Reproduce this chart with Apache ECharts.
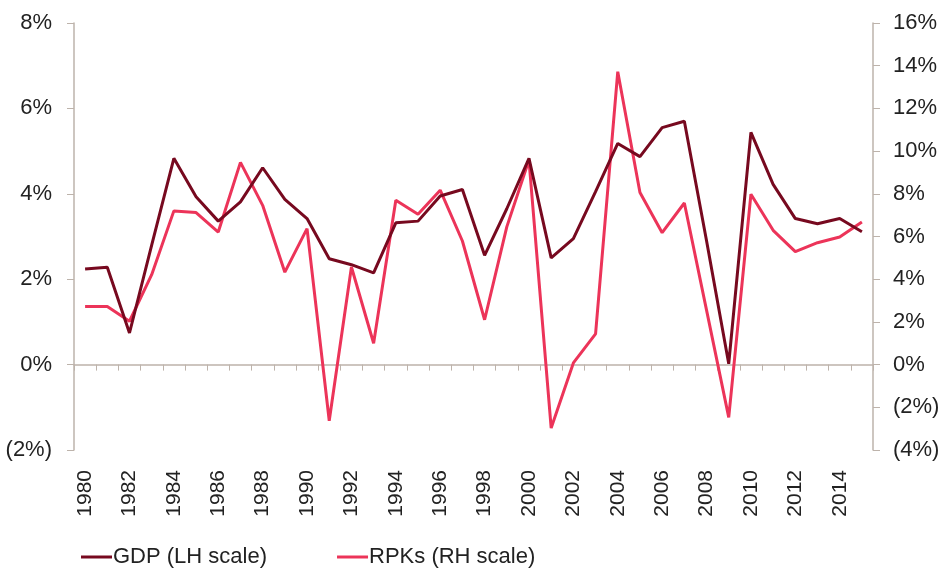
<!DOCTYPE html>
<html>
<head>
<meta charset="utf-8">
<script src="https://cdn.jsdelivr.net/npm/echarts@6/dist/echarts.min.js"></script>
<style>
  html, body { margin: 0; padding: 0; background: #fff; }
  #chart { width: 939px; height: 569px; }
</style>
</head>
<body>
<div id="chart"></div>
<script>
// years 1980-2015
var years = [];
for (var y = 1980; y <= 2015; y++) years.push(String(y));

// GDP growth, % (left axis)
var gdp = [2.24, 2.28, 0.74, 2.8, 4.83, 3.93, 3.36, 3.81, 4.61, 3.87,
           3.42, 2.48, 2.34, 2.15, 3.32, 3.36, 3.95, 4.10, 2.56, 3.65,
           4.83, 2.50, 2.95, 4.05, 5.18, 4.87, 5.55, 5.70, 2.9, 0.02,
           5.44, 4.22, 3.42, 3.30, 3.42, 3.11];

// RPK growth, % (right axis)
var rpk = [2.72, 2.72, 2.03, 4.21, 7.20, 7.12, 6.21, 9.47, 7.46, 4.33,
           6.37, -2.63, 4.57, 1.00, 7.70, 7.04, 8.17, 5.79, 2.10, 6.45,
           9.58, -2.97, 0.08, 1.44, 13.72, 8.06, 6.18, 7.57, 2.55, -2.47,
           7.98, 6.29, 5.29, 5.71, 5.98, 6.68];

var axisColor = '#bdb3ab';
var textColor = '#222';
var fontFam = '"Liberation Sans", Arial, sans-serif';

function pct(v) {
  if (v < 0) return '(' + Math.abs(v) + '%)';
  return v + '%';
}

var myChart = echarts.init(document.getElementById('chart'));
var opt = {
  animation: false,
  textStyle: { fontFamily: fontFam },
  grid: { left: 74, right: 66, top: 23, bottom: 119, containLabel: false, outerBoundsMode: 'none' },
  legend: {
    left: 81,
    top: 546,
    padding: 0,
    icon: 'rect',
    itemWidth: 31,
    itemHeight: 3,
    itemGap: 70,
    textStyle: { fontSize: 22, color: textColor, fontFamily: fontFam, padding: [0, 0, 0, -4] },
    data: ['GDP (LH scale)', 'RPKs (RH scale)']
  },
  xAxis: [
    {
      type: 'category',
      data: years,
      boundaryGap: true,
      axisLine: { onZero: true, onZeroAxisIndex: 0, lineStyle: { color: axisColor, width: 1.5 } },
      axisTick: { show: true, length: 6, interval: 0, lineStyle: { color: axisColor } },
      axisLabel: { show: false },
      splitLine: { show: false }
    },
    {
      type: 'category',
      data: years,
      position: 'bottom',
      boundaryGap: true,
      axisLine: { show: false, onZero: false },
      axisTick: { show: false },
      axisLabel: {
        rotate: 90,
        interval: 1,
        fontSize: 21,
        color: textColor,
        fontFamily: fontFam,
        margin: 20
      },
      splitLine: { show: false }
    }
  ],
  yAxis: [
    {
      type: 'value',
      min: -2, max: 8, interval: 2,
      position: 'left',
      axisLine: { show: true, lineStyle: { color: axisColor, width: 1.5 } },
      axisTick: { show: true, length: 7, lineStyle: { color: axisColor } },
      axisLabel: { formatter: pct, fontSize: 22, color: textColor, fontFamily: fontFam, margin: 22 },
      splitLine: { show: false }
    },
    {
      type: 'value',
      min: -4, max: 16, interval: 2,
      position: 'right',
      axisLine: { show: true, lineStyle: { color: axisColor, width: 1.5 } },
      axisTick: { show: true, length: 7, lineStyle: { color: axisColor } },
      axisLabel: { formatter: pct, fontSize: 22, color: textColor, fontFamily: fontFam, margin: 20 },
      splitLine: { show: false }
    }
  ],
  series: [
    {
      name: 'GDP (LH scale)',
      type: 'line',
      xAxisIndex: 0,
      yAxisIndex: 0,
      data: gdp,
      symbol: 'none',
      z: 3,
      lineStyle: { color: '#77091f', width: 3 },
      itemStyle: { color: '#77091f' }
    },
    {
      name: 'RPKs (RH scale)',
      type: 'line',
      xAxisIndex: 0,
      yAxisIndex: 1,
      data: rpk,
      symbol: 'none',
      z: 2,
      lineStyle: { color: '#ec3459', width: 3 },
      itemStyle: { color: '#ec3459' }
    }
  ]
};
myChart.setOption(opt);
</script>
</body>
</html>
